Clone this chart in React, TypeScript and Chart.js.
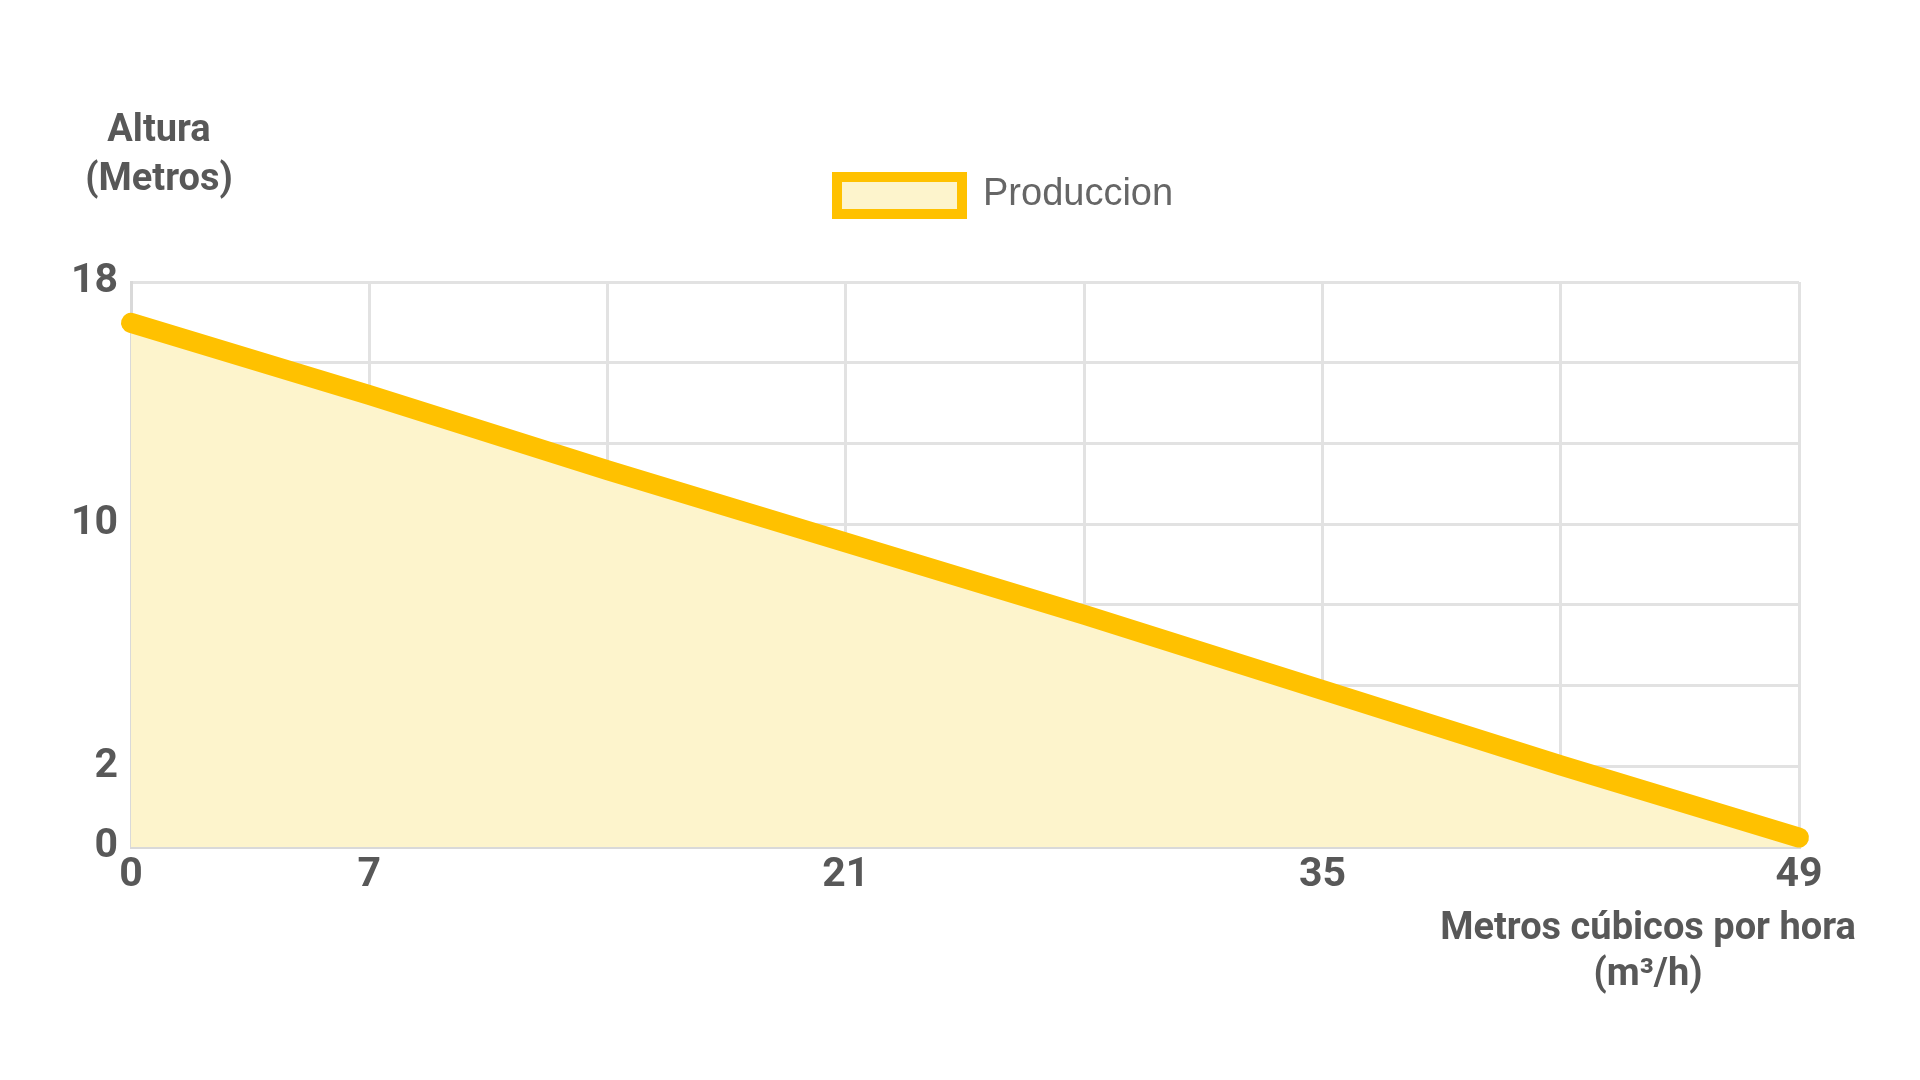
import React, { useEffect, useRef } from "react";
import { Chart, registerables } from "chart.js";

Chart.register(...registerables);

const X_VALUES = [0, 7, 14, 21, 28, 35, 42, 49];
const Y_VALUES = [16.7, 14.4, 12.0, 9.7, 7.4, 5.0, 2.6, 0.3];
const X_TICK_LABELS = ["0", "7", "", "21", "", "35", "", "49"];
const Y_TICK_LABELS = ["0", "2", "", "", "10", "", "", "18"];
const Y_MAX = 18;
const X_MAX = 49;
const GRID_DIVISIONS = 7;
const SERIES_LABEL = "Produccion";
const Y_TITLE = ["Altura", "(Metros)"];
const X_TITLE = ["Metros cúbicos por hora", "(m³/h)"];

const LINE_COLOR = "rgb(255,193,0)";
const FILL_COLOR = "rgb(253,244,204)";
const TITLE_COLOR = "#585858";

const overlayPlugin = {
  id: "overlayText",
  afterDraw(chart: any) {
    const ctx = chart.ctx;
    ctx.save();
    ctx.fillStyle = TITLE_COLOR;
    ctx.textAlign = "center";
    ctx.textBaseline = "middle";
    ctx.font = "700 38px Roboto";
    ctx.fillText(Y_TITLE[0], 159, 131);
    ctx.fillText(Y_TITLE[1], 159, 180);
    ctx.fillText(X_TITLE[0], 1648, 929);
    ctx.fillText(X_TITLE[1], 1648, 975);

    // legend
    ctx.fillStyle = FILL_COLOR;
    ctx.fillRect(837, 177, 125, 37);
    ctx.strokeStyle = LINE_COLOR;
    ctx.lineWidth = 10;
    ctx.strokeRect(837, 177, 125, 37);
    ctx.fillStyle = "#666";
    ctx.textAlign = "left";
    ctx.font = "38px 'Liberation Sans'";
    ctx.fillText(SERIES_LABEL, 983, 195);
    ctx.restore();
  },
};

export default function App() {
  const ref = useRef<HTMLCanvasElement>(null);
  useEffect(() => {
    if (!ref.current) return;
    const chart = new Chart(ref.current, {
      type: "line",
      data: {
        datasets: [
          {
            label: SERIES_LABEL,
            data: X_VALUES.map((x, i) => ({ x, y: Y_VALUES[i] })),
            borderColor: LINE_COLOR,
            backgroundColor: FILL_COLOR,
            borderWidth: 20,
            borderCapStyle: "round",
            borderJoinStyle: "round",
            fill: "origin",
            pointRadius: 0,
            tension: 0,
            clip: false as any,
          },
        ],
      },
      options: {
        animation: false,
        responsive: true,
        maintainAspectRatio: false,
        layout: { padding: { left: 0, top: 282, right: 121, bottom: 0 } },
        plugins: {
          legend: { display: false },
          tooltip: { enabled: false },
        },
        scales: {
          x: {
            type: "linear",
            min: 0,
            max: X_MAX,
            afterFit: (s: any) => {
              s.height = 233;
            },
            afterBuildTicks: (s: any) => {
              s.ticks = X_VALUES.map((v) => ({ value: v }));
            },
            ticks: {
              autoSkip: false,
              maxRotation: 0,
              padding: 4,
              color: TITLE_COLOR,
              font: { family: "Roboto", size: 41, weight: "bold" },
              callback: (_v: any, i: number) => X_TICK_LABELS[i],
            },
            grid: { color: "#e2e2e2", lineWidth: 3, drawTicks: false },
            border: { color: "#d9d9d9", width: 3 },
          },
          y: {
            type: "linear",
            min: 0,
            max: Y_MAX,
            afterFit: (s: any) => {
              s.width = 131;
            },
            afterBuildTicks: (s: any) => {
              const t = [];
              for (let i = 0; i <= GRID_DIVISIONS; i++) t.push({ value: (Y_MAX * i) / GRID_DIVISIONS });
              s.ticks = t;
            },
            ticks: {
              autoSkip: false,
              padding: 13,
              color: TITLE_COLOR,
              font: { family: "Roboto", size: 41, weight: "bold" },
              callback: (_v: any, i: number) => Y_TICK_LABELS[i],
            },
            grid: { color: "#e2e2e2", lineWidth: 3, drawTicks: false },
            border: { color: "#d9d9d9", width: 3 },
          },
        },
      } as any,
      plugins: [overlayPlugin],
    });
    return () => chart.destroy();
  }, []);
  return (
    <div style={{ position: "absolute", left: 0, top: 0, width: 1920, height: 1080, background: "#fff" }}>
      <canvas ref={ref} />
    </div>
  );
}
